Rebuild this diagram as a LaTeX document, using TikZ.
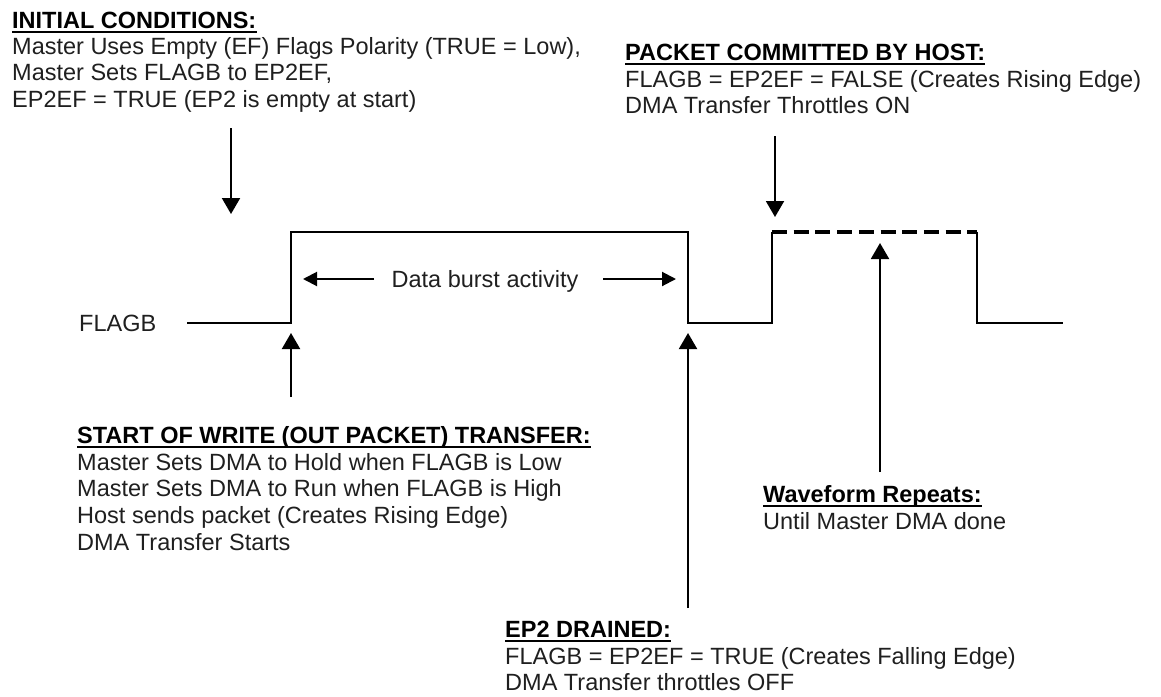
\documentclass[tikz,border=0pt]{standalone}
\usepackage{fontspec}
\setmainfont{Liberation Sans}
\usetikzlibrary{arrows.meta}
\begin{document}
\begin{tikzpicture}[x=1pt,y=-1pt,
  txt/.style={anchor=base west, inner sep=0pt, text=black!88, font=\fontsize{23.5}{26.8}\selectfont},
  ttl/.style={anchor=base west, inner sep=0pt, text=black, font=\fontsize{23.5}{26.8}\selectfont\bfseries},
  uline/.style={line width=2.6pt, black},
  wave/.style={line width=2pt, black, line join=miter},
  dashwave/.style={line width=3.2pt, black, dash pattern=on 15pt off 6.7pt},
  bigarrow/.style={line width=2pt, black, -{Triangle[width=18pt,length=16pt]}},
  smallarrow/.style={line width=2pt, black, -{Triangle[width=14pt,length=14pt]}}]
\useasboundingbox (0,0) rectangle (1161,696);

% ---------- text blocks ----------
\node[ttl] (t1) at (12,28) {INITIAL CONDITIONS:};
\node[txt] (b1) at (12,54) {\begin{tabular}[t]{@{}l@{}}Master Uses Empty (EF) Flags Polarity (TRUE = Low),\\Master Sets FLAGB to EP2EF,\\EP2EF = TRUE (EP2 is empty at start)\end{tabular}};

\node[ttl] (t2) at (625,60) {PACKET COMMITTED BY HOST:};
\node[txt] (b2) at (625,87) {\begin{tabular}[t]{@{}l@{}}FLAGB = EP2EF = FALSE (Creates Rising Edge)\\DMA Transfer Throttles ON\end{tabular}};

\node[ttl] (t3) at (77,443) {START OF WRITE (OUT PACKET) TRANSFER:};
\node[txt] (b3) at (77,470) {\begin{tabular}[t]{@{}l@{}}Master Sets DMA to Hold when FLAGB is Low\\Master Sets DMA to Run when FLAGB is High\\Host sends packet (Creates Rising Edge)\\DMA Transfer Starts\end{tabular}};

\node[ttl] (t4) at (763,502) {Waveform Repeats:};
\node[txt] (b4) at (763,529) {Until Master DMA done};

\node[ttl] (t5) at (505,637) {EP2 DRAINED:};
\node[txt] (b5) at (505,664) {\begin{tabular}[t]{@{}l@{}}FLAGB = EP2EF = TRUE (Creates Falling Edge)\\DMA Transfer throttles OFF\end{tabular}};

\foreach \t in {t1,t2,t3,t4,t5}
  \draw[uline] ([yshift=-4pt]\t.base west) -- ([yshift=-4pt]\t.base east);

\node[txt] (flagb) at (79,331) {FLAGB};
\node[txt, anchor=base] (burst) at (485,287.5) {Data burst activity};

% ---------- waveform ----------
\coordinate (w0) at (187,323);
\coordinate (w1) at (291,323);
\coordinate (w2) at (291,232);
\coordinate (w3) at (688,232);
\coordinate (w4) at (688,323);
\coordinate (w5) at (772,323);
\coordinate (w6) at (772,232);
\coordinate (w7) at (977,232);
\coordinate (w8) at (977,323);
\coordinate (w9) at (1063,323);
\draw[wave] (w0) -- (w1) -- (w2) -- (w3) -- (w4) -- (w5) -- (w6);
\draw[dashwave] (w6) -- (w7);
\draw[wave] (w7) -- (w8) -- (w9);

% ---------- arrows ----------
\coordinate (a1s) at (231,128);  \coordinate (a1e) at (231,214);
\coordinate (a2s) at (775,136);  \coordinate (a2e) at (775,217);
\coordinate (a3s) at (291,397);  \coordinate (a3e) at (291,333);
\coordinate (a4s) at (688,608);  \coordinate (a4e) at (688,333);
\coordinate (a5s) at (880,472);  \coordinate (a5e) at (880,243);
\draw[bigarrow] (a1s) -- (a1e);
\draw[bigarrow] (a2s) -- (a2e);
\draw[bigarrow] (a3s) -- (a3e);
\draw[bigarrow] (a4s) -- (a4e);
\draw[bigarrow] (a5s) -- (a5e);

\coordinate (d1s) at (374,279);  \coordinate (d1e) at (303,279);
\coordinate (d2s) at (603,279);  \coordinate (d2e) at (676,279);
\draw[smallarrow] (d1s) -- (d1e);
\draw[smallarrow] (d2s) -- (d2e);
\end{tikzpicture}
\end{document}
